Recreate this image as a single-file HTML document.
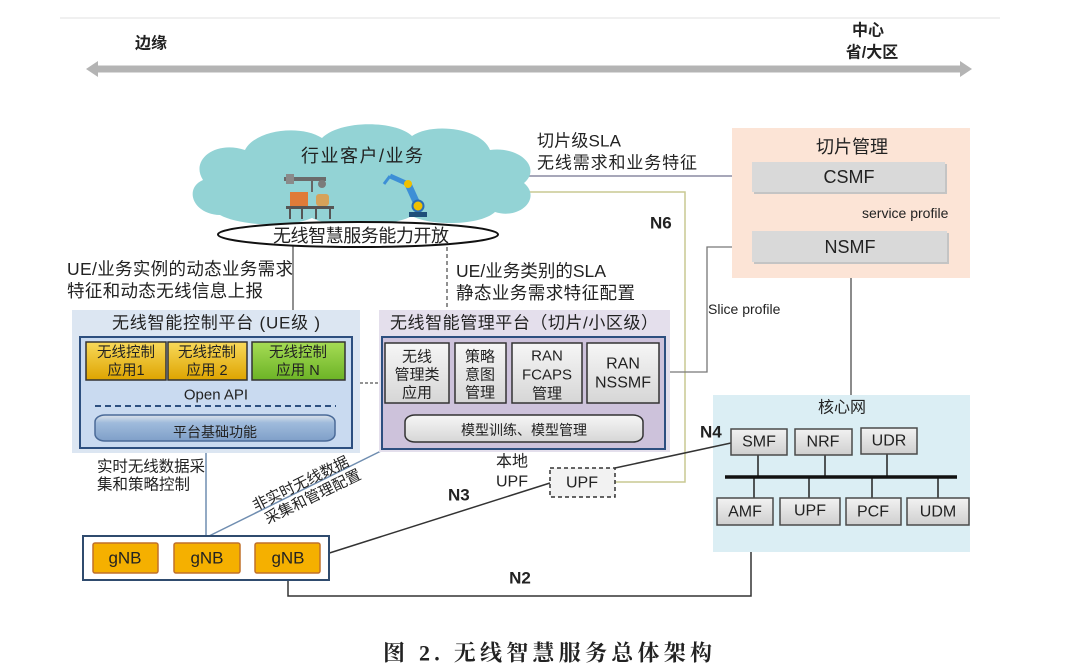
<!DOCTYPE html>
<html><head><meta charset="utf-8">
<style>
html,body{margin:0;padding:0;background:#fff;}
svg{display:block;}
text{font-family:"Liberation Sans","Noto Sans CJK SC",sans-serif;fill:#222;}
</style></head><body>
<svg width="1080" height="670" viewBox="0 0 1080 670" xmlns="http://www.w3.org/2000/svg">
<defs>
  <linearGradient id="gy" x1="0" y1="0" x2="0" y2="1">
    <stop offset="0" stop-color="#f8d95a"/><stop offset="1" stop-color="#dea400"/>
  </linearGradient>
  <linearGradient id="gg" x1="0" y1="0" x2="0" y2="1">
    <stop offset="0" stop-color="#a6dc55"/><stop offset="1" stop-color="#6cb326"/>
  </linearGradient>
  <linearGradient id="gb" x1="0" y1="0" x2="0" y2="1">
    <stop offset="0" stop-color="#f2f2f2"/><stop offset="1" stop-color="#cfcfcf"/>
  </linearGradient>
  <linearGradient id="gc" x1="0" y1="0" x2="0" y2="1">
    <stop offset="0" stop-color="#dde3ea"/><stop offset="0.3" stop-color="#9fbbdc"/><stop offset="1" stop-color="#7f9fc8"/>
  </linearGradient>
  <linearGradient id="gm" x1="0" y1="0" x2="0" y2="1">
    <stop offset="0" stop-color="#f6f6f6"/><stop offset="1" stop-color="#d6d6d6"/>
  </linearGradient>
</defs>

<!-- top faint line and axis arrow -->
<line x1="60" y1="18" x2="1000" y2="18" stroke="#f0f0f0" stroke-width="2"/>
<line x1="96" y1="69" x2="962" y2="69" stroke="#b4b4b4" stroke-width="7"/>
<polygon points="86,69 98,61 98,77" fill="#b4b4b4"/>
<polygon points="972,69 960,61 960,77" fill="#b4b4b4"/>
<text x="135" y="44" font-size="16" font-weight="bold" dominant-baseline="central">边缘</text>
<text x="868" y="31" font-size="16" font-weight="bold" text-anchor="middle" dominant-baseline="central">中心</text>
<text x="872" y="53" font-size="16" font-weight="bold" text-anchor="middle" dominant-baseline="central">省/大区</text>

<!-- connectors (behind) -->
<line x1="520" y1="176" x2="752" y2="176" stroke="#8a8aa2" stroke-width="1.5"/>
<polyline points="520,192 685,192 685,482 615,482" fill="none" stroke="#c9c992" stroke-width="1.5"/>
<line x1="293" y1="240" x2="293" y2="310" stroke="#555" stroke-width="1.3"/>
<line x1="447" y1="212" x2="447" y2="310" stroke="#555" stroke-width="1.3" stroke-dasharray="4,3"/>
<line x1="849" y1="192" x2="849" y2="231" stroke="#666" stroke-width="1.5"/>
<line x1="851" y1="262" x2="851" y2="395" stroke="#666" stroke-width="1.5"/>
<polyline points="752,247 707,247 707,372 659,372" fill="none" stroke="#777" stroke-width="1.3"/>
<line x1="206" y1="453" x2="206" y2="537" stroke="#6f8db0" stroke-width="1.5"/>
<line x1="207" y1="537" x2="381" y2="451" stroke="#6f8db0" stroke-width="1.5"/>
<line x1="320" y1="556" x2="550" y2="483" stroke="#333" stroke-width="1.5"/>
<polyline points="288,573 288,596 751,596 751,525" fill="none" stroke="#333" stroke-width="1.5"/>
<line x1="360" y1="383" x2="380" y2="383" stroke="#555" stroke-width="1.2" stroke-dasharray="3,2"/>

<!-- cloud -->
<path d="M 220,215 C 192,214 184,188 203,180 C 190,160 215,140 245,150 C 255,130 300,124 322,138 C 340,120 395,120 412,136 C 432,122 482,128 490,150 C 520,146 542,168 524,183 C 542,198 520,220 495,212 C 480,226 430,226 412,216 C 390,228 330,228 312,218 C 290,228 240,226 220,215 Z" fill="#93d3d5"/>
<text x="362" y="156" font-size="18" text-anchor="middle" dominant-baseline="central" fill="#333" textLength="122">行业客户/业务</text>
<!-- left robot -->
<rect x="284" y="177" width="42" height="4" fill="#6b6b6b"/>
<rect x="286" y="174" width="8" height="10" fill="#8a8a8a"/>
<line x1="312" y1="181" x2="312" y2="192" stroke="#666" stroke-width="2"/>
<circle cx="322" cy="184" r="4" fill="#7b7b7b"/>
<rect x="290" y="192" width="18" height="15" fill="#e07b39"/>
<rect x="316" y="194" width="13" height="12" rx="3" fill="#d6a25a"/>
<rect x="286" y="206" width="48" height="3" fill="#555"/>
<line x1="290" y1="209" x2="290" y2="219" stroke="#555" stroke-width="2"/>
<line x1="302" y1="209" x2="302" y2="219" stroke="#555" stroke-width="2"/>
<line x1="316" y1="209" x2="316" y2="219" stroke="#555" stroke-width="2"/>
<line x1="330" y1="209" x2="330" y2="219" stroke="#555" stroke-width="2"/>
<!-- right robot -->
<line x1="418" y1="206" x2="408" y2="184" stroke="#3d8fd6" stroke-width="7"/>
<line x1="408" y1="184" x2="390" y2="176" stroke="#3d8fd6" stroke-width="5"/>
<line x1="390" y1="176" x2="384" y2="184" stroke="#3d8fd6" stroke-width="3"/>
<circle cx="408" cy="184" r="4" fill="#f0c000"/>
<circle cx="418" cy="206" r="5.5" fill="#f0c000" stroke="#2a6db5" stroke-width="2"/>
<rect x="409" y="212" width="18" height="5" fill="#1f4e79"/>

<!-- ellipse -->
<ellipse cx="358" cy="234.5" rx="140" ry="12.5" fill="#fff" stroke="#111" stroke-width="2"/>
<text x="361" y="236" font-size="18" text-anchor="middle" dominant-baseline="central" fill="#d53a3e" textLength="176">无线智慧服务能力开放</text>

<!-- labels -->
<text x="67" y="269" font-size="17.5" dominant-baseline="central" textLength="226">UE/业务实例的动态业务需求</text>
<text x="67" y="291" font-size="17.5" dominant-baseline="central" textLength="196">特征和动态无线信息上报</text>
<text x="456" y="271" font-size="17.5" dominant-baseline="central" textLength="150">UE/业务类别的SLA</text>
<text x="456" y="293" font-size="17.5" dominant-baseline="central" textLength="179">静态业务需求特征配置</text>
<text x="537" y="141" font-size="17" dominant-baseline="central" textLength="84">切片级SLA</text>
<text x="537" y="163" font-size="17" dominant-baseline="central" textLength="160">无线需求和业务特征</text>
<text x="650" y="223" font-size="17" font-weight="bold" dominant-baseline="central" fill="#333">N6</text>
<text x="708" y="309" font-size="14" dominant-baseline="central" fill="#333">Slice profile</text>

<!-- slice management -->
<rect x="732" y="128" width="238" height="150" fill="#fce4d6"/>
<text x="852" y="147" font-size="18" text-anchor="middle" dominant-baseline="central" fill="#333">切片管理</text>
<rect x="754" y="164" width="193" height="30" fill="#c4c4c4"/>
<rect x="752" y="162" width="193" height="30" fill="#d9d9d9"/>
<text x="849" y="177" font-size="18" text-anchor="middle" dominant-baseline="central" fill="#333">CSMF</text>
<text x="862" y="213" font-size="14" dominant-baseline="central" fill="#333">service profile</text>
<rect x="754" y="233" width="195" height="31" fill="#c4c4c4"/>
<rect x="752" y="231" width="195" height="31" fill="#d9d9d9"/>
<text x="850" y="247" font-size="18" text-anchor="middle" dominant-baseline="central" fill="#333">NSMF</text>

<!-- core network -->
<rect x="713" y="395" width="257" height="157" fill="#dbeef4"/>
<line x1="615" y1="468" x2="731" y2="443" stroke="#333" stroke-width="1.5"/>
<text x="842" y="408" font-size="16" text-anchor="middle" dominant-baseline="central" fill="#444">核心网</text>
<text x="700" y="432" font-size="17" font-weight="bold" dominant-baseline="central" fill="#333">N4</text>
<line x1="758" y1="455" x2="758" y2="477" stroke="#222" stroke-width="1.5"/>
<line x1="825" y1="455" x2="825" y2="477" stroke="#222" stroke-width="1.5"/>
<line x1="887" y1="454" x2="887" y2="477" stroke="#222" stroke-width="1.5"/>
<line x1="754" y1="477" x2="754" y2="498" stroke="#222" stroke-width="1.5"/>
<line x1="809" y1="477" x2="809" y2="498" stroke="#222" stroke-width="1.5"/>
<line x1="872" y1="477" x2="872" y2="498" stroke="#222" stroke-width="1.5"/>
<line x1="938" y1="477" x2="938" y2="498" stroke="#222" stroke-width="1.5"/>
<line x1="725" y1="477" x2="957" y2="477" stroke="#111" stroke-width="3.5"/>
<g stroke="#4a4a4a" stroke-width="1.5" fill="url(#gb)">
  <rect x="731" y="429" width="56" height="26"/>
  <rect x="795" y="429" width="57" height="26"/>
  <rect x="861" y="428" width="56" height="26"/>
  <rect x="717" y="498" width="56" height="27"/>
  <rect x="780" y="498" width="60" height="27"/>
  <rect x="846" y="498" width="55" height="27"/>
  <rect x="907" y="498" width="62" height="27"/>
</g>
<g font-size="16" text-anchor="middle" dominant-baseline="central">
  <text x="759" y="442" fill="#333">SMF</text>
  <text x="823" y="442" fill="#333">NRF</text>
  <text x="889" y="441" fill="#333">UDR</text>
  <text x="745" y="512" fill="#333">AMF</text>
  <text x="810" y="511" fill="#333">UPF</text>
  <text x="873" y="512" fill="#333">PCF</text>
  <text x="938" y="512" fill="#333">UDM</text>
</g>

<!-- left platform UE -->
<rect x="72" y="310" width="288" height="143" fill="#dce6f2"/>
<text x="216" y="323" font-size="17" text-anchor="middle" dominant-baseline="central" fill="#333" textLength="208">无线智能控制平台 (UE级 )</text>
<rect x="80" y="337" width="272" height="111" fill="#c9daf0" stroke="#2d4f7f" stroke-width="2"/>
<rect x="86" y="342" width="80" height="38" fill="url(#gy)" stroke="#333" stroke-width="1.5"/>
<rect x="168" y="342" width="79" height="38" fill="url(#gy)" stroke="#333" stroke-width="1.5"/>
<rect x="252" y="342" width="93" height="38" fill="url(#gg)" stroke="#333" stroke-width="1.5"/>
<g font-size="14.5" text-anchor="middle" dominant-baseline="central">
  <text x="126" y="353" fill="#4a3a10">无线控制</text>
  <text x="126" y="371" fill="#4a3a10">应用1</text>
  <text x="207" y="353" fill="#4a3a10">无线控制</text>
  <text x="207" y="371" fill="#4a3a10">应用 2</text>
  <text x="298" y="353" fill="#2f4a10">无线控制</text>
  <text x="298" y="371" fill="#2f4a10">应用 N</text>
</g>
<text x="216" y="395" font-size="15" text-anchor="middle" dominant-baseline="central" fill="#d03a48">Open API</text>
<line x1="95" y1="406" x2="336" y2="406" stroke="#2d4f7f" stroke-width="2" stroke-dasharray="6,4"/>
<rect x="95" y="415" width="240" height="26" rx="10" ry="7" fill="url(#gc)" stroke="#4a6a98" stroke-width="1.5"/>
<text x="215" y="432" font-size="14" text-anchor="middle" dominant-baseline="central" fill="#fff">平台基础功能</text>

<!-- mgmt platform -->
<rect x="379" y="310" width="291" height="142" fill="#e4dfec"/>
<text x="524" y="323" font-size="17" text-anchor="middle" dominant-baseline="central" fill="#333" textLength="268">无线智能管理平台（切片/小区级）</text>
<rect x="382" y="337" width="283" height="112" fill="#cdc2db" stroke="#2d4f7f" stroke-width="2"/>
<g stroke="#333" stroke-width="1.5" fill="url(#gm)">
  <rect x="385" y="343" width="64" height="60"/>
  <rect x="455" y="343" width="51" height="60"/>
  <rect x="512" y="343" width="70" height="60"/>
  <rect x="587" y="343" width="72" height="60"/>
</g>
<g font-size="15" text-anchor="middle" dominant-baseline="central">
  <text x="417" y="357" fill="#333">无线</text>
  <text x="417" y="375" fill="#333">管理类</text>
  <text x="417" y="393" fill="#333">应用</text>
  <text x="480" y="357" fill="#333">策略</text>
  <text x="480" y="375" fill="#333">意图</text>
  <text x="480" y="393" fill="#333">管理</text>
  <text x="547" y="356" fill="#333">RAN</text>
  <text x="547" y="375" fill="#333">FCAPS</text>
  <text x="547" y="394" fill="#333">管理</text>
  <text x="623" y="364" font-size="16" fill="#333">RAN</text>
  <text x="623" y="383" font-size="16" fill="#333">NSSMF</text>
</g>
<rect x="405" y="415" width="238" height="27" rx="10" ry="7" fill="url(#gm)" stroke="#333" stroke-width="1.5"/>
<text x="524" y="430" font-size="14" text-anchor="middle" dominant-baseline="central" fill="#333">模型训练、模型管理</text>

<!-- left text under UE platform -->
<text x="97" y="467" font-size="15.5" dominant-baseline="central" fill="#333" textLength="108">实时无线数据采</text>
<text x="97" y="485" font-size="15.5" dominant-baseline="central" fill="#333" textLength="93">集和策略控制</text>
<g transform="translate(301,484) rotate(-26)">
  <text x="0" y="0" font-size="15" text-anchor="middle" dominant-baseline="central" fill="#333">非实时无线数据</text>
  <text x="5" y="17" font-size="15" text-anchor="middle" dominant-baseline="central" fill="#333">采集和管理配置</text>
</g>

<!-- local UPF -->
<rect x="550" y="468" width="65" height="29" fill="#f2f2f2" stroke="#333" stroke-width="1.5" stroke-dasharray="4,3"/>
<text x="582" y="483" font-size="16" text-anchor="middle" dominant-baseline="central" fill="#333">UPF</text>
<text x="512" y="462" font-size="16" text-anchor="middle" dominant-baseline="central" fill="#333">本地</text>
<text x="512" y="482" font-size="16" text-anchor="middle" dominant-baseline="central" fill="#333">UPF</text>
<text x="448" y="495" font-size="17" font-weight="bold" dominant-baseline="central" fill="#333">N3</text>
<text x="520" y="578" font-size="17" font-weight="bold" text-anchor="middle" dominant-baseline="central" fill="#333">N2</text>

<!-- gNB container -->
<rect x="83" y="536" width="246" height="44" fill="#fff" stroke="#2f4b6e" stroke-width="2"/>
<g fill="#f5b000" stroke="#c0702a" stroke-width="1.5">
  <rect x="93" y="543" width="65" height="30" rx="2"/>
  <rect x="174" y="543" width="66" height="30" rx="2"/>
  <rect x="255" y="543" width="65" height="30" rx="2"/>
</g>
<g font-size="17" text-anchor="middle" dominant-baseline="central">
  <text x="125" y="558" fill="#fff">gNB</text>
  <text x="207" y="558" fill="#fff">gNB</text>
  <text x="288" y="558" fill="#fff">gNB</text>
</g>

<!-- caption -->
<text x="383" y="653" font-size="22" font-weight="bold" dominant-baseline="central" fill="#111" style="font-family:'Liberation Serif','Noto Serif CJK SC',serif" textLength="329">图 2. 无线智慧服务总体架构</text>
</svg>
</body></html>
